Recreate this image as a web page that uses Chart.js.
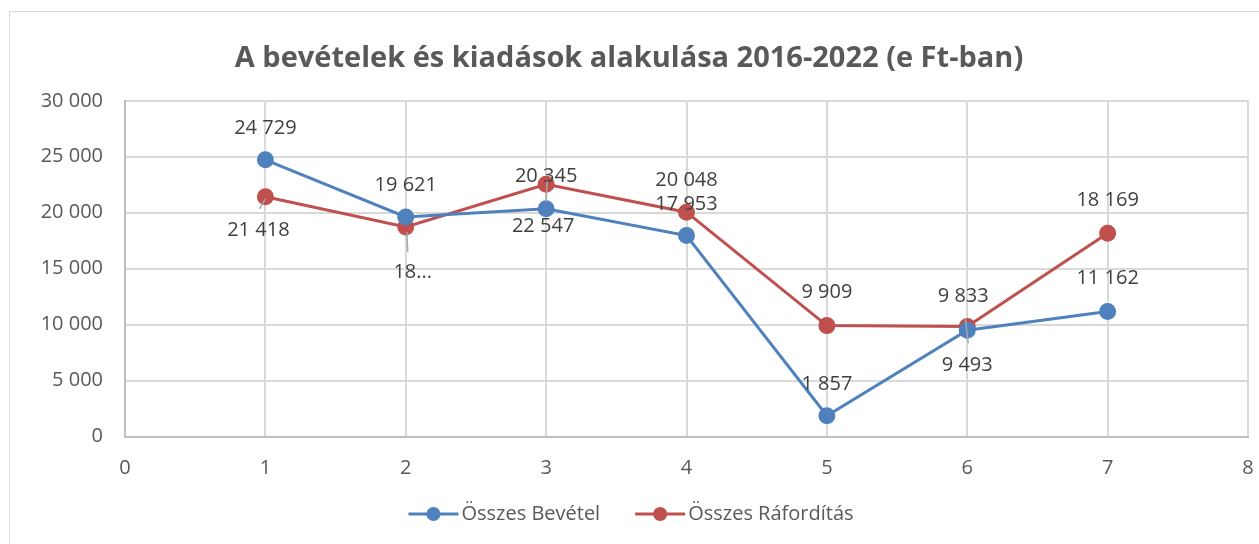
<!DOCTYPE html>
<html lang="hu">
<head>
    <meta charset="UTF-8">
    <title>A bevételek és kiadások alakulása 2016-2022</title>
    <script src="https://cdn.jsdelivr.net/npm/chart.js"></script>
    <style>
        body { margin: 0; background: #fff; }
        #frame { position: absolute; left: 9px; top: 11px; width: 1260px; height: 540px; border: 1px solid #d9d9d9; }
        canvas { position: absolute; left: 0; top: 0; }
    </style>
</head>
<body>
    <div id="frame"></div>
    <canvas id="myLineChart" width="1259" height="544"></canvas>

    <script>
        // Data
        const years = [1, 2, 3, 4, 5, 6, 7];
        const bevetel = [24729, 19621, 20345, 17953, 1857, 9493, 11162];
        const raforditas = [21418, 18730, 22547, 20048, 9909, 9833, 18169];
        const yTicks = [0, 5000, 10000, 15000, 20000, 25000, 30000];
        const xTicks = [0, 1, 2, 3, 4, 5, 6, 7, 8];
        const seriesNames = ['Összes Bevétel', 'Összes Ráfordítás'];
        const truncatedLabels = { '1-1': '18...' };

        // Label placement (pixels, relative to the point)
        const labelOffsets = [
            [[0, -31], [0, -32], [0, -33], [0, -31], [0, -31], [0, 35], [0, -33]],
            [[-7, 33], [7, 45], [-3, 42], [0, -32], [0, -33], [-4, -30], [0, -33]]
        ];
        const leaders = [
            [null, null, null, null, null, [-2, -12, 1, 13], null],
            [[-6, 12, 0, 2], [1, 5, 2, 25], [1, -3, 0, 17], null, null, null, null]
        ];

        const fmt = v => String(v).replace(/\B(?=(\d{3})+(?!\d))/g, ' ');
        const FONT = "'Open Sans', sans-serif";
        const colors = ['#4F81BD', '#C0504D'];

        const labelPlugin = {
            id: 'pointLabels',
            afterDatasetsDraw(chart) {
                const ctx = chart.ctx;
                ctx.save();
                chart.data.datasets.forEach((ds, di) => {
                    const meta = chart.getDatasetMeta(di);
                    meta.data.forEach((pt, i) => {
                        const l = leaders[di][i];
                        if (l) {
                            ctx.strokeStyle = '#a6a6a6';
                            ctx.lineWidth = 1.5;
                            ctx.beginPath();
                            ctx.moveTo(pt.x + l[0], pt.y + l[1]);
                            ctx.lineTo(pt.x + l[2], pt.y + l[3]);
                            ctx.stroke();
                        }
                        const off = labelOffsets[di][i];
                        const text = truncatedLabels[di + '-' + i] || fmt(ds.data[i].y);
                        ctx.font = '20px ' + FONT;
                        ctx.fillStyle = '#404040';
                        ctx.textAlign = 'center';
                        ctx.textBaseline = 'middle';
                        ctx.fillText(text, pt.x + off[0], pt.y + off[1]);
                    });
                });
                ctx.restore();
            },
            afterDraw(chart) {
                // legend: line with marker, then the series name
                const ctx = chart.ctx;
                ctx.save();
                ctx.font = '20px ' + FONT;
                ctx.textBaseline = 'middle';
                ctx.textAlign = 'left';
                const y = 514;
                const gap = 36;
                const widths = seriesNames.map(n => 52 + ctx.measureText(n).width);
                let x = chart.width / 2 - (widths[0] + widths[1] + gap) / 2 + 1;
                seriesNames.forEach((name, i) => {
                    ctx.strokeStyle = colors[i];
                    ctx.lineWidth = 3;
                    ctx.beginPath();
                    ctx.moveTo(x, y);
                    ctx.lineTo(x + 50, y);
                    ctx.stroke();
                    ctx.fillStyle = colors[i];
                    ctx.beginPath();
                    ctx.arc(x + 25, y, 7, 0, Math.PI * 2);
                    ctx.fill();
                    ctx.fillStyle = '#595959';
                    ctx.fillText(name, x + 53, y);
                    x += widths[i] + gap;
                });
                ctx.restore();
            }
        };

        const toPoints = vals => years.map((x, i) => ({ x: x, y: vals[i] }));

        const chartData = {
            datasets: [
                {
                    label: seriesNames[0],
                    data: toPoints(bevetel),
                    borderColor: colors[0],
                    backgroundColor: colors[0],
                    borderWidth: 3,
                    pointRadius: 7,
                    pointHoverRadius: 7,
                    tension: 0
                },
                {
                    label: seriesNames[1],
                    data: toPoints(raforditas),
                    borderColor: colors[1],
                    backgroundColor: colors[1],
                    borderWidth: 3,
                    pointRadius: 7,
                    pointHoverRadius: 7,
                    tension: 0
                }
            ]
        };

        const config = {
            type: 'line',
            data: chartData,
            plugins: [labelPlugin],
            options: {
                responsive: false,
                animation: false,
                layout: { padding: { left: 10, right: 11, top: 0, bottom: 0 } },
                plugins: {
                    legend: { display: false },
                    tooltip: { enabled: false },
                    title: {
                        display: true,
                        text: 'A bevételek és kiadások alakulása 2016-2022 (e Ft-ban)',
                        color: '#595959',
                        font: { family: FONT, size: 29, weight: 'bold' },
                        padding: { top: 41, bottom: 25 }
                    }
                },
                scales: {
                    x: {
                        type: 'linear',
                        min: 0,
                        max: 8,
                        afterBuildTicks: s => { s.ticks = xTicks.map(v => ({ value: v })); },
                        afterFit: s => { s.height = 544 - 436.5; s.paddingLeft = 0; s.paddingRight = 0; },
                        grid: { color: '#d9d9d9', lineWidth: 2, drawTicks: false },
                        border: { color: '#bfbfbf', width: 2 },
                        ticks: { color: '#595959', padding: 20, font: { family: FONT, size: 20 } }
                    },
                    y: {
                        min: 0,
                        max: 30000,
                        afterBuildTicks: s => { s.ticks = yTicks.map(v => ({ value: v })); },
                        afterFit: s => { s.width = 125 - 10; s.paddingTop = 0; s.paddingBottom = 0; },
                        grid: { color: '#d9d9d9', lineWidth: 2, drawTicks: false },
                        border: { color: '#bfbfbf', width: 2 },
                        ticks: { color: '#595959', padding: 22, font: { family: FONT, size: 20 }, callback: v => fmt(v) }
                    }
                }
            }
        };

        const ctx = document.getElementById('myLineChart').getContext('2d');
        const myLineChart = new Chart(ctx, config);
    </script>
</body>
</html>
